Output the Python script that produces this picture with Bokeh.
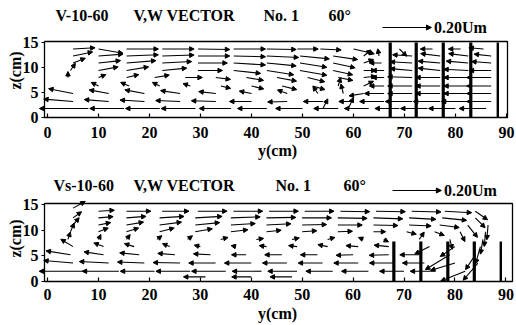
import math
from bokeh.plotting import figure
from bokeh.models import (Arrow, NormalHead, ColumnDataSource, Label, Range1d,
                          FixedTicker, LinearAxis)
from bokeh.layouts import column
from bokeh.embed import file_html
from bokeh.resources import INLINE

SCALE = 48.0  # plotted cm per 1.0 Um
REF_U = 0.20
Y_TICKS = [0, 10, 20, 30, 40, 50, 60, 70, 80, 90]
Z_TICKS = [0, 5, 10, 15]

# ---------------- Panel 1: V-10-60 ----------------
top_y = [5, 10, 15.5, 22.5, 29.5, 36.5, 43, 49, 53.5, 60, 69, 75.5, 81, 85.5,
         5, 10, 15.5, 22.5, 29.5, 36.5, 43, 49.5, 56, 62, 65, 71.5, 77, 82.5, 87,
         5, 10, 15.5, 22.5, 29.5, 36.5, 43, 49.5, 56, 62, 65.5, 71.5, 77, 82.5, 87,
         4.5, 10, 15.5, 22.5, 29.5, 36.5, 43, 49.5, 56, 62, 66, 71.5, 77, 82.5, 87,
         4, 10, 15.5, 21, 27, 33, 39, 45, 51, 57, 62, 66, 71.5, 77, 82.5, 87,
         10, 16, 22, 28, 34, 40, 46, 52, 57, 62, 66, 71.5, 77, 82.5, 87,
         5, 12, 19, 26, 33, 40, 47, 53, 58, 62, 66, 71.5, 77, 82.5, 87,
         5, 12, 19, 26, 33, 40, 47, 54, 60, 66, 71.5, 77, 82.5, 87,
         8, 15, 22, 29, 36, 43, 50, 54, 57, 59, 63, 69, 74.5, 80, 86]
top_z = [13.7] * 14 + [12.3] * 15 + [10.9] * 15 + [9.4] * 15 + [8.0] * 16 + \
        [6.3] * 15 + [4.8] * 15 + [3.2] * 14 + [1.8] * 15
top_v = [.09, .10, .13, .13, .13, .13, .12, .085, .085, .085, .03, -.05, -.05, -.06,
         .08, .10, .13, .13, .13, .13, .13, .12, .10, .03, -.005, -.08, -.08, -.08, -.07,
         .05, .09, .12, .12, .12, .13, .12, .11, .09, .04, -.05, -.09, -.09, -.09, -.08,
         .02, .08, .09, .10, .10, .11, .11, .11, .08, .05, -.05, -.09, -.09, -.10, -.09,
         0, .03, .05, .06, .07, .06, .07, .08, .07, .06, .05, -.05, -.10, -.10, -.10, -.10,
         -.03, -.035, -.03, -.03, .04, .05, .06, .05, .01, .04, -.06, -.10, -.10, -.10, -.10,
         -.10, -.08, -.08, -.08, -.07, -.05, -.04, -.02, -.01, -.06, -.08, -.10, -.10, -.10, -.10,
         -.12, -.10, -.10, -.10, -.10, -.09, -.08, -.08, -.06, -.10, -.11, -.11, -.11, -.10,
         -.20, -.14, -.14, -.14, -.13, -.12, -.11, .02, -.10, .02, -.10, -.10, -.11, -.11, -.11]
top_w = [.005, -.018, 0, 0, -.002, 0, -.002, 0, -.004, -.02, -.03, 0, 0, .005,
         .017, .008, .005, .004, 0, -.003, -.006, -.012, -.015, .025, .03, .005, .01, .01, .008,
         .02, .01, .01, .006, 0, -.008, -.012, -.018, -.02, .015, 0, .005, .008, .008, .006,
         .03, .015, .015, .01, 0, -.012, -.018, -.02, -.018, 0, 0, .008, .01, .005, 0,
         .025, .012, .012, .01, 0, -.008, -.012, -.015, -.018, -.012, .005, 0, .003, 0, 0, 0,
         .015, .015, .015, .01, -.01, -.012, -.015, -.015, .035, .02, 0, 0, 0, 0, 0,
         .02, .015, .015, .012, .008, .01, .015, .03, .04, -.01, 0, 0, 0, 0, 0,
         .01, .008, .006, .004, .003, 0, -.002, 0, 0, 0, 0, 0, 0, 0,
         0, 0, 0, 0, 0, 0, 0, .04, 0, .045, 0, 0, 0, 0, 0]
top_bars_y = [67.2, 72.3, 77.6, 83.0, 88.3]
top_bars_h = [15.0, 15.0, 15.0, 15.0, 15.0]

# ---------------- Panel 2: Vs-10-60 ----------------
bot_y = [5,
         10, 15.5, 22.5, 29.5, 36.5, 43.5, 50.5, 57.5, 64.5, 71.5, 78, 84,
         5, 10, 15.5, 22, 29, 36, 43, 50, 57, 64, 71, 77.5, 84,
         5, 10, 15.5, 22, 29, 36, 43, 50, 57, 64, 71, 77, 82.5, 86.5,
         4.5, 10, 15.5, 22, 29, 36, 43, 50, 57, 64, 70.5, 76, 81, 86,
         4, 10, 15.5, 21.5, 27.5, 34, 41, 48, 55, 62, 66, 73, 79, 85.5,
         5, 11, 17, 24, 30, 37, 43, 49, 55, 61, 67, 75, 80, 85,
         4.5, 11, 18, 25, 32, 39, 46, 53, 60, 67, 73, 79, 84,
         5, 12, 19, 26, 33, 40, 47, 54, 61, 68, 74, 80, 84.5,
         7, 14, 21, 28, 35, 42, 49, 56, 63, 70, 76, 82,
         31, 40, 48]
bot_z = [14.3] + [13.7] * 12 + [12.4] * 13 + [11.0] * 14 + [9.7] * 14 + \
        [8.2] * 14 + [6.8] * 14 + [5.2] * 13 + [3.6] * 13 + [2.0] * 12 + [0.9] * 3
bot_v = [.05,
         .065, .10, .11, .12, .12, .12, .12, .12, .12, .12, .11, .05,
         .035, .06, .08, .10, .11, .12, .12, .12, .12, .12, .11, .10, .04,
         .025, .05, .07, .09, .10, .10, .10, .10, .10, .10, .09, .08, .04, -.005,
         .015, .04, .05, .06, .07, .07, .06, .06, .06, .05, .04, .04, .02, -.005,
         .01, .01, .015, .02, .02, .03, .03, .03, .03, -.02, .02, .02, .01, -.01,
         -.05, -.04, -.04, -.03, -.025, -.02, -.03, -.035, -.04, -.05, -.06, -.06, -.06, -.02,
         -.10, -.08, -.08, -.07, -.07, -.06, -.07, -.07, -.07, -.08, -.08, -.10, -.04,
         -.12, -.12, -.11, -.11, -.11, -.11, -.10, -.10, -.10, -.10, -.09, -.10, -.06,
         -.18, -.15, -.14, -.14, -.14, -.12, -.12, -.11, -.11, -.10, -.10, -.10,
         -.09, -.08, -.09]
bot_w = [.027,
         .004, 0, 0, 0, 0, 0, 0, -.002, -.002, -.003, -.006, -.035,
         .025, .005, .006, .006, .006, .004, .002, 0, -.002, -.004, -.006, -.01, -.04,
         .03, .01, .012, .012, .01, .006, .005, .002, 0, -.002, -.004, -.01, -.05, -.06,
         .035, .015, .015, .015, .012, .008, .006, .004, .002, 0, -.01, -.015, -.04, -.06,
         .03, .02, .02, .015, .015, .008, .004, .006, .008, .008, -.01, .03, -.04, -.06,
         .03, .015, .012, .012, .006, .004, .004, .004, .008, .004, .006, -.03, -.04, -.07,
         .016, .012, .008, .006, .004, 0, 0, 0, -.002, -.002, 0, -.06, -.06,
         .01, .006, .004, .002, 0, 0, 0, 0, 0, 0, 0, -.03, -.07,
         0, 0, 0, 0, 0, 0, 0, 0, 0, 0, 0, -.04,
         0, 0, 0]
bot_bars_y = [68.0, 73.3, 78.6, 83.8, 89.0]
bot_bars_h = [7.8, 7.8, 7.8, 7.8, 7.8]

SERIF = "Liberation Serif"
W = 516


def make_panel(xs, zs, vs, ws, bars_y, bars_h, x_min, x_max, z_max, height,
               page_top, box_left, box_right, box_top, box_bottom,
               title_parts, ref_px, ref_py, ylab_py, zlab_py, tick_standoff):
    """One canvas per panel; box_* are page pixel edges of the plotting box."""
    ppx = (box_right - box_left) / (x_max - x_min)
    ppz = (box_bottom - box_top) / z_max
    lo = x_min - box_left / ppx
    hi = x_max + (W - box_right) / ppx
    zb = -(page_top + height - box_bottom) / ppz
    zt = z_max + (box_top - page_top) / ppz

    p = figure(width=W, height=height, x_range=Range1d(lo, hi),
               y_range=Range1d(zb, zt), output_backend="svg",
               toolbar_location=None, x_axis_type=None, y_axis_type=None,
               min_border_left=0, min_border_right=0, min_border_top=0,
               min_border_bottom=0)
    p.title.visible = False
    p.xgrid.visible = False
    p.ygrid.visible = False
    p.outline_line_color = None

    def fx(px):
        return lo + px / ppx

    def fz(py):
        return zt - (py - page_top) / ppz

    # axes fixed at the edges of the measuring box
    xax = LinearAxis(fixed_location=0, ticker=FixedTicker(ticks=Y_TICKS))
    yax = LinearAxis(fixed_location=x_min, ticker=FixedTicker(ticks=Z_TICKS))
    for ax in (xax, yax):
        ax.axis_line_color = None
        ax.minor_tick_line_color = None
        ax.major_tick_line_color = "black"
        ax.major_tick_line_width = 1.2
        ax.major_label_text_font = SERIF
        ax.major_label_text_font_size = "16px"
        ax.major_label_text_font_style = "bold"
        ax.major_label_text_color = "black"
    xax.major_tick_in = 4
    xax.major_tick_out = 0
    xax.major_label_standoff = tick_standoff
    yax.major_tick_in = 0
    yax.major_tick_out = 3
    yax.major_label_standoff = 3
    p.add_layout(xax, "below")
    p.add_layout(yax, "left")

    # box outline
    p.quad(left=[x_min], right=[x_max], bottom=[0], top=[z_max],
           fill_color=None, line_color="black", line_width=1.3)

    # vertical bars
    bsrc = ColumnDataSource(dict(x=bars_y, y0=[0] * len(bars_y), y1=bars_h,
                                 lw=[3.2, 3.2, 3.2, 3.2, 2.4]))
    p.segment(x0="x", y0="y0", x1="x", y1="y1", line_width="lw",
              line_color="black", source=bsrc)

    # velocity vectors (V, W) drawn from each measuring point
    x1 = [x + v * SCALE for x, v in zip(xs, vs)]
    z1 = [z + w * SCALE for z, w in zip(zs, ws)]
    src = ColumnDataSource(dict(x0=xs, y0=zs, x1=x1, y1=z1))
    p.add_layout(Arrow(x_start="x0", y_start="y0", x_end="x1", y_end="y1",
                       source=src, line_color="black", line_width=1.1,
                       end=NormalHead(size=4.5, fill_color="black",
                                      line_color="black", line_width=1)))

    # titles
    for txt, px, py in title_parts:
        p.add_layout(Label(x=fx(px), y=fz(py), text=txt, text_font=SERIF,
                           text_font_size="16px", text_font_style="bold",
                           text_align="left", text_baseline="middle",
                           text_color="black"))
    # reference vector
    rx0 = fx(ref_px)
    rz = fz(ref_py)
    p.add_layout(Arrow(x_start=rx0, y_start=rz, x_end=rx0 + REF_U * SCALE,
                       y_end=rz, line_color="black", line_width=1,
                       end=NormalHead(size=5, fill_color="black",
                                      line_color="black")))
    p.add_layout(Label(x=rx0 + REF_U * SCALE + 0.5, y=rz, text="0.20Um",
                       text_font=SERIF, text_font_size="16px",
                       text_font_style="bold", text_baseline="middle",
                       text_color="black"))
    # axis titles
    p.add_layout(Label(x=fx(277), y=fz(ylab_py), text="y(cm)",
                       text_font=SERIF, text_font_size="16px",
                       text_font_style="bold", text_align="center",
                       text_baseline="middle", text_color="black"))
    p.add_layout(Label(x=fx(15), y=fz(zlab_py), text="z(cm)",
                       text_font=SERIF, text_font_size="16px",
                       text_font_style="bold", text_align="center",
                       text_baseline="middle", angle=math.pi / 2,
                       text_color="black"))
    return p


p1 = make_panel(top_y, top_z, top_v, top_w, top_bars_y, top_bars_h,
                x_min=-0.6, x_max=90.2, z_max=15.2, height=165, page_top=0,
                box_left=44, box_right=507, box_top=41, box_bottom=117,
                title_parts=[("V-10-60", 55, 15), ("V,W VECTOR", 133, 15),
                             ("No. 1", 263, 15), ("60\u00b0", 328, 15)],
                ref_px=382, ref_py=27, ylab_py=150, zlab_py=70,
                tick_standoff=9)
p2 = make_panel(bot_y, bot_z, bot_v, bot_w, bot_bars_y, bot_bars_h,
                x_min=-0.6, x_max=91.3, z_max=15.2, height=160, page_top=165,
                box_left=44, box_right=512, box_top=203, box_bottom=281,
                title_parts=[("Vs-10-60", 53, 185), ("V,W VECTOR", 133, 185),
                             ("No. 1", 275, 185), ("60\u00b0", 343, 185)],
                ref_px=392, ref_py=190, ylab_py=313, zlab_py=238,
                tick_standoff=7)

layout = column(p1, p2, spacing=0)
open("out.html", "w").write(file_html(layout, INLINE))
